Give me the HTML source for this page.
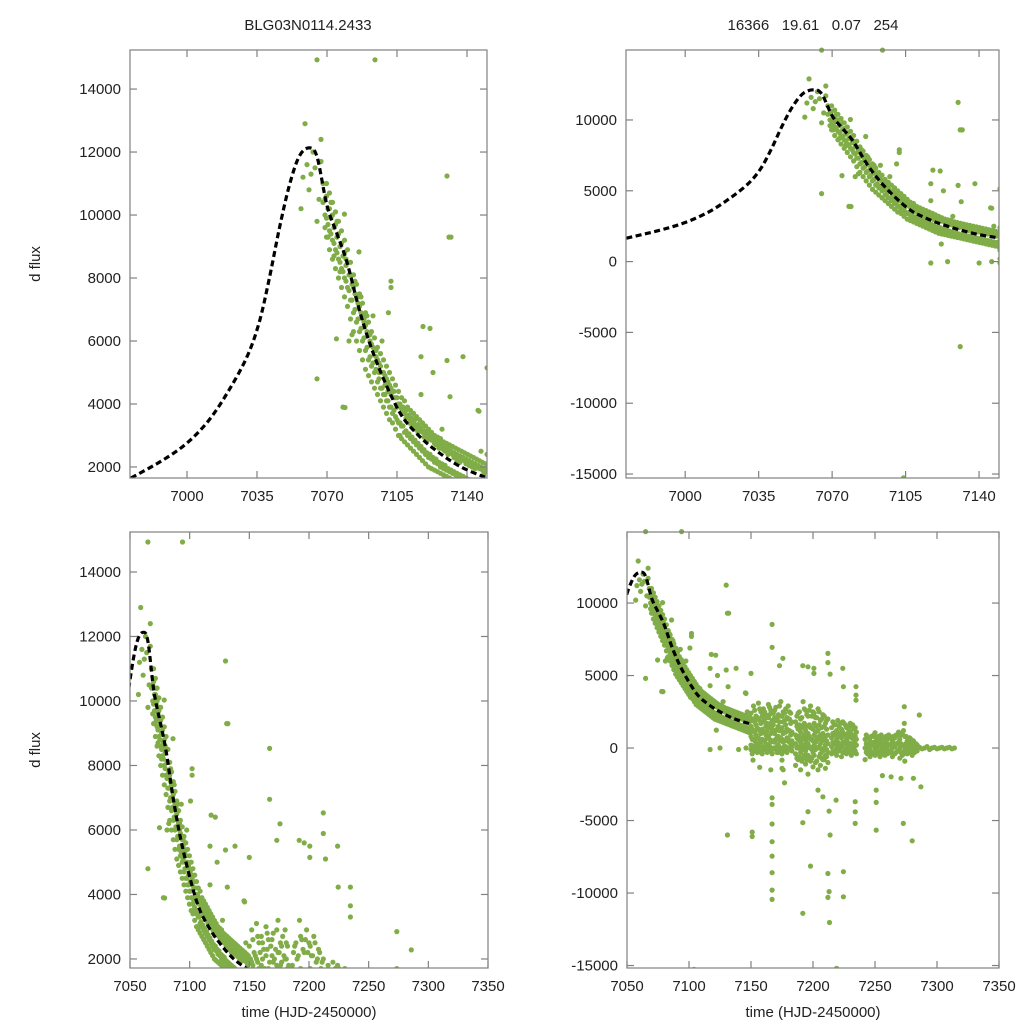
<!DOCTYPE html>
<html><head><meta charset="utf-8">
<style>
html,body{margin:0;padding:0;background:#fff;width:1024px;height:1024px;overflow:hidden;}
svg{display:block;font-family:"Liberation Sans",Arial,sans-serif;}
</style></head>
<body>
<svg id="chart" width="1024" height="1024" viewBox="0 0 1024 1024" xmlns="http://www.w3.org/2000/svg">
<rect width="1024" height="1024" fill="#fff"/>
<text x="308" y="30" text-anchor="middle" font-size="15" fill="#222">BLG03N0114.2433</text>
<text x="813" y="30" text-anchor="middle" font-size="15" fill="#222" xml:space="preserve">16366   19.61   0.07   254</text>
<text transform="translate(40,264) rotate(-90)" text-anchor="middle" font-size="15" fill="#222">d flux</text>
<text transform="translate(40,750) rotate(-90)" text-anchor="middle" font-size="15" fill="#222">d flux</text>
<text x="309" y="1017" text-anchor="middle" font-size="15" fill="#222">time (HJD-2450000)</text>
<text x="813" y="1017" text-anchor="middle" font-size="15" fill="#222">time (HJD-2450000)</text>
</svg>
<script>
// model curve
const modelTime = [6972,6988,7000,7011,7021,7030,7036,7041,7046,7051,7056,7061,7065,7070,7075,7080,7087,7095,7106,7115,7125,7137,7150];
const modelFlux = [1650,2220,2760,3490,4440,5500,6570,7940,9520,10900,11850,12130,11850,10300,9400,8500,6800,5300,3770,3050,2500,2000,1650];
// observations
const obsPeak = [[7057,10200],[7058,11200],[7059,12900],[7060,11600],[7061,10800],[7062,11300],[7063,12000],[7064,11500],[7065,4800],[7065,9800],[7065,14930],[7066,10500],[7067,12400],[7067,11700],[7068,11000],[7068,10400],[7094,14930]];
const obsDecayTime = [7069,7070.5,7072,7073.5,7075,7076.5,7078,7079.5,7081,7082.5,7084,7085.5,7087,7088.5,7090,7091.5,7093,7094.5,7096,7097.5,7099,7100.5,7102,7103.5,7105,7106.5,7108,7109.5,7111,7112.5,7114,7115.5,7117,7118.5,7120,7121.5,7123,7124.5,7126,7127.5,7129,7130.5,7132,7133.5,7135,7136.5,7138,7139.5,7141,7142.5,7144,7145.5,7147,7148.5];
const obsDecayFlux = [
[10500,10000,9600],[10200,9700,9300],[9900,9400,10400],[9600,9100,8700],[9300,8800,9800],[9000,8500,8200],[8700,8200,3900],[8400,7900,8600],[8100,7600,6000],[7800,7300,6200],[7500,7000,7900],[7200,6700,7400],[6900,6400,7400],[6600,6100,6700],[6300,5800,6800],[6000,5500,6200],[5800,5300,6800],[5500,5100,5700],
[5300,4800,5000],[5000,4500,6000],[4900,4300,4600],[4700,4100,4400],[4500,3900,4300],[4400,3800,4200],[4200,3500,3900],[4000,3400,3000],[3900,3300,3700],[3800,3150,3550],[3650,3050,3400],[3550,2950,3300],[3500,2850,3200],[3350,2750,3100],[3250,2650,4300],[3150,2550,2950],[3100,2450,2850],[3000,2400,6400],[2950,2300,5000],[2850,2250,2700],[2800,2150,2600],[2700,2100,3200],[2650,2050,2500],[2600,1950,2400],[2500,1900,9300],[2450,1850,2300],[2400,1800,2200],[2350,1750,2150],[2300,1700,5500],[2250,1650,2100],[2200,1600,2050],[2150,1550,2000],[2100,1500,1950],[2050,1450,3800],[2000,1400,2500],[1950,1350,1800]];
const obsDecay2Time = [7069.75,7071.25,7072.75,7074.25,7075.75,7077.25,7078.75,7080.25,7081.75,7083.25,7084.75,7086.25,7087.75,7089.25,7090.75,7092.25,7093.75,7095.25,7096.75,7098.25,7099.75,7101.25,7102.75,7104.25,7105.75,7107.25,7108.75,7110.25,7111.75,7113.25,7114.75,7116.25,7117.75,7119.25,7120.75,7122.25,7123.75,7125.25,7126.75,7128.25,7129.75,7131.25,7132.75,7134.25,7135.75,7137.25,7138.75,7140.25,7141.75,7143.25,7144.75,7146.25,7147.75,7149.25];
const obsDecay2Flux = [
[11000,9900,9300,10600],[10700,9500,8900,10200],[10400,9200,8600,10000],[10100,8900,8300,9700],[9800,8600,8000,9400],[9500,8300,7700,9100],[9200,8000,7400,8800],[8900,7700,7100,8500],[8500,7300,6700,8100],[8100,6900,6300,7700],[7800,6600,6000,7400],[7500,6300,5700,7100],[7200,6000,5400,6800],[6900,5700,5100,6500],[6600,5400,4900,6200],[6300,5200,4700,5900],[6100,5000,4500,5700],[5800,4700,4300,5400],[5600,4500,4100,5200],[5400,4300,3900,5000],[5200,4100,3700,4800],[5000,3900,3500,4600],[4800,3700,3400,4400],[4600,3600,3200,4200],[4400,3400,3000,4000],[4200,3300,2900,3850],[4100,3100,2800,3700],[3900,3000,2700,3600],[3800,2900,2600,3500],[3700,2800,2500,3400],[3600,2700,2400,3300],[3500,2600,2300,3200],[3400,2500,2200,3100],[3300,2400,2100,3000],[3200,2300,2000,2900],[3100,2250,1950,2850],[3000,2150,1900,2750],[2950,2100,1850,2700],[2900,2000,1800,2600],[2800,1950,1750,2550],[2750,1900,1700,2500],[2700,1850,1650,2450],[2650,1800,1600,2400],[2600,1750,1550,2350],[2550,1700,1500,2300],[2500,1650,1450,2250],[2450,1600,1400,2200],[2400,1550,1350,2150],[2350,1500,1300,2100],[2300,1450,1250,2050],[2250,1400,1200,2000],[2200,1350,1150,1950],[2150,1300,1100,1900],[2100,1250,1050,1850]];
const obsCloudTime = [7150,7152,7154,7156,7158,7160,7162,7164,7166,7168,7170,7172,7174,7176,7178,7180,7182,
7186,7188,7190,7192,7194,7196,7198,7200,7202,7204,7206,7208,7210,7212,
7215,7217,7219,7221,7223,7225,7227,7229,7231,7233,7235,
7242,7244,7246,7248,7250,7252,7254,7256,7258,7260,7262,7264,7266,7268,7270,7272,7274,7276,7278,7280,7282,7284,
7286,7288,7290,7292,7294,7296,7298,7300,7302,7304,7306,7308,7310,7312,7314];
const obsCloudFlux = [
[2400,1500,800,200,-100],[2900,1900,1200,600,0],[2200,1600,900,300,-200],[3100,2000,1300,700,100],[2500,1700,1000,400,-300],[2700,1800,1100,500,0],[2300,1500,900,300,-100],[3000,2100,1400,800,200],[2600,1700,1000,400,-200],[2400,1600,1100,500,0],[2800,1900,1200,600,-100],[2300,1500,800,200,-300],[3200,2200,1300,700,0],[2500,1800,1000,400,-200],[2700,1600,1100,500,100],[2900,2000,1200,600,0],[2400,1700,900,300,-100],
[1800,900,300,-400,-1200],[2400,1300,600,0,-800],[2000,1100,400,-300,-1500],[3200,1500,700,100,-700],[2600,1200,500,-200,-1100],[2200,1000,300,-500,-1800],[2900,1400,600,0,-900],[2500,1300,500,-300,-1300],[2100,1100,400,-100,-1000],[2700,1200,600,0,-1500],[1900,900,300,-400,-1200],[2300,1000,500,-200,-800],[1700,800,200,-500,-1400],[2000,900,300,-300,-1000],
[1400,700,100,-400],[1600,900,300,-300],[1200,600,0,-500],[1500,800,200,-200],[1300,700,100,-600],[1700,900,300,-300],[1400,600,0,-400],[1200,800,200,-200],[1500,700,100,-500],[1300,500,0,-300],[1100,600,200,-400],
[600,0,-800],[700,100,-400],[500,-100,-600],[800,200,-300],[400,0,-500],[600,100,-400],[500,-200,-600],[700,0,-300],[400,100,-500],[600,-100,-400],[800,200,-300],[500,0,-600],[700,100,-400],[900,300,-200],[600,0,-700],[1000,200,-500],[800,-100,-900],[500,100,-400],[700,0,-300],[400,-100,-500],[300,0,-300],[200,0,-200],
[50],[-50],[0],[100],[-100],[0],[50],[-50],[0],[50],[-50],[0],[50],[-50],[0]];
const obsCloud2Time = [7151,7153,7155,7157,7159,7161,7163,7165,7167,7169,7171,7173,7175,7177,7179,7181,7183,
7187,7189,7191,7193,7195,7197,7199,7201,7203,7205,7207,7209,7211,
7216,7218,7220,7222,7224,7226,7228,7230,7232,7234,
7243,7245,7247,7249,7251,7253,7255,7257,7259,7261,7263,7265,7267,7269,7271,7273,7275,7277,7279,7281,7283];
const obsCloud2Flux = [
[2000,1300,600,100,-400],[1800,1100,500,-100,2600],[2100,1400,700,0,-300],[1900,1200,400,-200,2700],[2200,1300,600,100,-400],[2000,1100,500,-100,2500],[1700,1200,700,0,-300],[2300,1400,600,100,2800],[1900,1300,500,-100,-400],[2100,1000,400,0,2600],[2000,1300,700,100,-300],[1800,1200,500,-200,2900],[2200,1400,600,0,-400],[1900,1100,500,100,2400],[2100,1300,700,-100,-300],[2000,1200,400,0,2500],[1800,1100,500,100,-200],
[1500,700,0,-700,2200],[1600,800,100,-600,2500],[1400,600,-100,-900,2100],[1700,900,200,-500,2700],[1500,700,0,-800,2300],[1600,800,100,-600,2600],[1400,600,-100,-700,2200],[1700,900,200,-500,2400],[1500,700,0,-900,2100],[1600,800,100,-600,2500],[1400,600,-100,-700,2000],[1500,700,0,-800,2200],[1300,500,-100,-600,1900],
[1000,400,-200,1800],[1100,300,-300,1600],[900,400,-100,1900],[1000,200,-200,1700],[1100,400,-300,1800],[900,300,-100,1600],[1000,400,-200,1500],[1100,300,-300,1700],[900,200,-100,1600],[800,300,-200,1400],
[300,-300,900],[200,-200,700],[300,-400,800],[400,-300,900],[200,-200,700],[300,-300,800],[200,-400,900],[300,-200,700],[400,-300,800],[200,-300,900],[300,-200,700],[200,-400,800],[300,-300,900],[400,-200,1100],[300,-300,900],[200,-400,1200],[300,-300,800],[200,-200,700],[300,-300,600],[200,-200,500],[100,-100,300]];
const obsOutliers = [[7130,11240],[7131,9300],[7131,-6000],[7151,-5800],[7151,-6100],[7104,-15270],[7219,-15200],
[7167,8530],[7167,6950],[7167,-3430],[7167,-3890],[7167,-5240],[7167,-6460],[7167,-7450],[7167,-8600],[7167,-9800],[7167,-10440],
[7175.7,6190],[7173,5680],[7150,5150],[7146,3770],[7191.8,5680],[7196,5600],[7200.7,5500],[7200.7,5150],[7212,6530],[7212,5890],[7213.8,5100],[7224,5500],[7224.5,4230],[7234.7,4230],[7234.7,3650],[7234.7,3300],
[7191.8,-5150],[7196,-4390],[7198,-8140],[7191.8,-11400],[7212,-8650],[7213,-9900],[7212,-10300],[7213.3,-12030],[7213.8,-6000],[7213,-4350],[7224.5,-8530],[7224.5,-10260],[7218.6,-3590],[7234,-3700],[7234,-4400],[7234,-5200],[7204,-2900],[7208,-3360],
[7250,1060],[7251,-2900],[7251,-3750],[7251,-5660],[7273.6,2850],[7273.6,1700],[7272.8,-5200],[7280,-6400],[7285.7,2280],[7287,-2670],[7281,-2090],[7271,-2090],[7263,-1980],[7256,-1900],
[7130,5380],[7131.5,4230],[7118,6460],[7117,5500],[7102,7900],[7102,7700],[7100.7,6900],[7079,3890],[7086,8830],[7078.7,10030],[7074.7,6070],
[7117,-100],[7122,1240],[7125,0],[7140,-100],[7146,0],[7151.6,-830],[7157,-1330],[7166,-1500],[7175,-830],[7175,-1400],[7177,-2400],[7176,-1500]];

const yTicksTop = [2000,4000,6000,8000,10000,12000,14000];
const yTicksWide = [-15000,-10000,-5000,0,5000,10000];
const xTicksZoom = [7000,7035,7070,7105,7140];
const xTicksFull = [7050,7100,7150,7200,7250,7300,7350];

const panels = [
 {name:'top-left', x0:130,x1:487,y0:50,y1:478, t0:6971.5,t1:7150, f0:1650,f1:15240, yt:yTicksTop, xt:xTicksZoom},
 {name:'top-right', x0:626,x1:999,y0:50,y1:478, t0:6971.8,t1:7149.5, f0:-15280,f1:14940, yt:yTicksWide, xt:xTicksZoom},
 {name:'bottom-left', x0:130,x1:488,y0:532,y1:968, t0:7050,t1:7350, f0:1720,f1:15240, yt:yTicksTop, xt:xTicksFull},
 {name:'bottom-right', x0:627,x1:999,y0:532,y1:968, t0:7050,t1:7350, f0:-15170,f1:14900, yt:yTicksWide, xt:xTicksFull}
];

const NS='http://www.w3.org/2000/svg';
const svg=document.getElementById('chart');
function mk(tag, attrs, parent){const e=document.createElementNS(NS,tag);for(const k in attrs)e.setAttribute(k,attrs[k]);(parent||svg).appendChild(e);return e;}

const allObs=[];
obsPeak.forEach(p=>allObs.push(p));
obsDecayTime.forEach((t,i)=>obsDecayFlux[i].forEach(f=>allObs.push([t,f])));
obsDecay2Time.forEach((t,i)=>obsDecay2Flux[i].forEach(f=>allObs.push([t,f])));
obsCloudTime.forEach((t,i)=>obsCloudFlux[i].forEach(f=>allObs.push([t,f])));
obsCloud2Time.forEach((t,i)=>obsCloud2Flux[i].forEach(f=>allObs.push([t,f])));
obsOutliers.forEach(p=>allObs.push(p));

panels.forEach((P,pi)=>{
  const sx=t=>P.x0+(t-P.t0)/(P.t1-P.t0)*(P.x1-P.x0);
  const sy=f=>P.y1-(f-P.f0)/(P.f1-P.f0)*(P.y1-P.y0);
  const g=mk('g',{});
  
  
  const defs=mk('defs',{},g);
  const cp=mk('clipPath',{id:'clip'+pi},defs);
  mk('rect',{x:P.x0,y:P.y0-3,width:P.x1-P.x0,height:P.y1-P.y0+3},cp);
  const pts=mk('g',{'clip-path':'url(#clip'+pi+')'},g);
  
  
  allObs.forEach(o=>{
    const c=mk('circle',{cx:sx(o[0]).toFixed(1),cy:sy(o[1]).toFixed(1),r:2.6,fill:'#80ad47'},pts);
    
    
  });
  const mp=modelTime.map((t,i)=>[sx(t),sy(modelFlux[i])]);
  let d='M'+mp[0][0].toFixed(1)+','+mp[0][1].toFixed(1);
  for(let i=0;i<mp.length-1;i++){
    const p0=mp[Math.max(0,i-1)],p1=mp[i],p2=mp[i+1],p3=mp[Math.min(mp.length-1,i+2)];
    const c1=[p1[0]+(p2[0]-p0[0])/6,p1[1]+(p2[1]-p0[1])/6];
    const c2=[p2[0]-(p3[0]-p1[0])/6,p2[1]-(p3[1]-p1[1])/6];
    d+=' C'+c1[0].toFixed(1)+','+c1[1].toFixed(1)+' '+c2[0].toFixed(1)+','+c2[1].toFixed(1)+' '+p2[0].toFixed(1)+','+p2[1].toFixed(1);
  }
  const ml=mk('path',{d:d,fill:'none',stroke:'#000','stroke-width':3.2,'stroke-dasharray':'6,3.5','clip-path':'url(#clip'+pi+')'},g);
  
  
  const fr=mk('rect',{x:P.x0,y:P.y0,width:P.x1-P.x0,height:P.y1-P.y0,fill:'none',stroke:'#808080','stroke-width':1.2},g);
  
  
  P.yt.forEach(v=>{
    const y=sy(v);
    mk('line',{x1:P.x0,x2:P.x0+7,y1:y,y2:y,stroke:'#808080','stroke-width':1.2},g);
    mk('line',{x1:P.x1,x2:P.x1-7,y1:y,y2:y,stroke:'#808080','stroke-width':1.2},g);
    const tx=mk('text',{x:P.x0-9,y:y+5,'text-anchor':'end','font-size':15,fill:'#222'},g);
    tx.textContent=v;
    
    
  });
  P.xt.forEach(v=>{
    const x=sx(v);
    mk('line',{x1:x,x2:x,y1:P.y1,y2:P.y1-7,stroke:'#808080','stroke-width':1.2},g);
    mk('line',{x1:x,x2:x,y1:P.y0,y2:P.y0+7,stroke:'#808080','stroke-width':1.2},g);
    const tx=mk('text',{x:x,y:P.y1+23,'text-anchor':'middle','font-size':15,fill:'#222'},g);
    tx.textContent=v;
    
    
  });
});
</script>
</body></html>
